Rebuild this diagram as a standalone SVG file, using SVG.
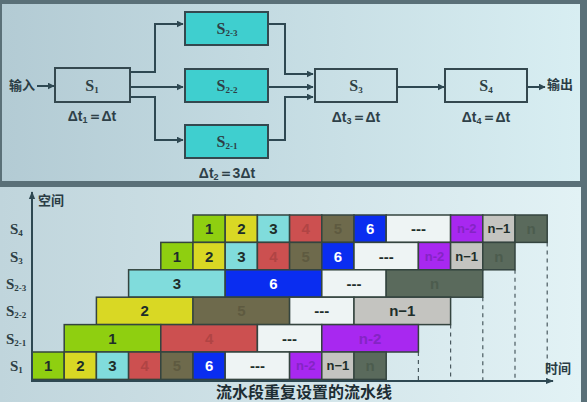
<svg xmlns="http://www.w3.org/2000/svg" width="587" height="402" viewBox="0 0 587 402">
<defs>
<linearGradient id="bgTop" x1="0" y1="0" x2="1" y2="0">
<stop offset="0" stop-color="#b3cbd4"/><stop offset="1" stop-color="#d8eef2"/>
</linearGradient>
<linearGradient id="bgBot" x1="0" y1="0" x2="1" y2="0">
<stop offset="0" stop-color="#c0d5dc"/><stop offset="1" stop-color="#e2f2f5"/>
</linearGradient>
<marker id="arr" viewBox="0 0 10 10" refX="9" refY="5" markerWidth="7" markerHeight="7" markerUnits="userSpaceOnUse" orient="auto">
<path d="M0,0 L10,5 L0,10 z" fill="#2e4852"/>
</marker>
<marker id="arr2" viewBox="0 0 10 10" refX="9" refY="5" markerWidth="8" markerHeight="8" markerUnits="userSpaceOnUse" orient="auto">
<path d="M0,1 L10,5 L0,9 z" fill="#2e4852"/>
</marker>
</defs>
<style>
.box{stroke:#34484f;stroke-width:2}
.plain{fill:none}
.cyan{fill:#3fcfcf}
.lbl{font-family:"Liberation Serif",serif;font-weight:bold;font-size:16px;fill:#2e3e44;text-anchor:middle}
.sub{font-size:9px}
.dt{font-family:"Liberation Sans",sans-serif;font-weight:bold;font-size:14px;fill:#2e4048;text-anchor:middle}
.cn{font-family:"Liberation Sans","Noto Sans CJK SC",sans-serif;font-weight:bold;font-size:13px;fill:#2a3c44}
.conn{fill:none;stroke:#2e4852;stroke-width:2}
.cell{stroke:#34443f;stroke-width:1.5}
.ct{font-family:"Liberation Sans",sans-serif;font-weight:bold;font-size:15px;text-anchor:middle;dominant-baseline:central}
.sm{font-size:13px}
.c1{fill:#8fcf10}.c2{fill:#d9d824}.c3{fill:#80dcdc}.c4{fill:#cc5050}.c5{fill:#6e6a4c}.c6{fill:#0a2df0}.cd{fill:#eef4f4}.cn2{fill:#a828f0}.cn1{fill:#c4c4c0}.cnn{fill:#5a6a5c}
.t1{fill:#1e2e2a}.t4{fill:#b04444}.t5{fill:#5e5a40}.t6{fill:#ffffff}.tn2{fill:#8424c4}.tn{fill:#4c5c4e}
.dash{stroke:#4a5a60;stroke-width:1.2;stroke-dasharray:4 4}
.axis{stroke:#2e4852;stroke-width:2;fill:none}
.rl{font-family:"Liberation Serif",serif;font-weight:bold;font-size:15px;fill:#2e3e44}
</style>
<rect x="0" y="0" width="587" height="402" fill="#5a7078"/>
<rect x="2" y="4" width="578" height="177" fill="url(#bgTop)"/>
<rect x="0" y="187" width="581" height="215" fill="url(#bgBot)"/>

<g id="connectors">
<line class="conn" x1="37" y1="86" x2="54" y2="86" marker-end="url(#arr)"/>
<polyline class="conn" points="131,72 155,72 155,24 183,24" marker-end="url(#arr)"/>
<line class="conn" x1="131" y1="87" x2="183" y2="87" marker-end="url(#arr)"/>
<polyline class="conn" points="131,97 155,97 155,140 183,140" marker-end="url(#arr)"/>
<polyline class="conn" points="262,24 285,24 285,74 313,74" marker-end="url(#arr)"/>
<line class="conn" x1="262" y1="87" x2="313" y2="87" marker-end="url(#arr)"/>
<polyline class="conn" points="262,140 285,140 285,97 313,97" marker-end="url(#arr)"/>
<line class="conn" x1="397" y1="87" x2="444" y2="87" marker-end="url(#arr)"/>
<line class="conn" x1="527" y1="87" x2="545" y2="87" marker-end="url(#arr)"/>
</g>

<text class="cn" x="9" y="90">输入</text>
<text class="cn" x="547" y="89">输出</text>

<g id="S1">
<rect class="box plain" x="55" y="68" width="75" height="34"/>
<text class="lbl" x="92" y="91">S<tspan class="sub" dy="2">1</tspan></text>
<text class="dt" x="92" y="121">Δt<tspan font-size="9" dy="2">1</tspan><tspan dy="-2">＝Δt</tspan></text>
</g>
<g id="S2-3">
<rect class="box cyan" x="185" y="12" width="83" height="33"/>
<text class="lbl" x="227" y="34">S<tspan class="sub" dy="2">2-3</tspan></text>
</g>
<g id="S2-2">
<rect class="box cyan" x="185" y="69" width="83" height="33"/>
<text class="lbl" x="227" y="91">S<tspan class="sub" dy="2">2-2</tspan></text>
</g>
<g id="S2-1">
<rect class="box cyan" x="185" y="125" width="83" height="33"/>
<text class="lbl" x="227" y="147">S<tspan class="sub" dy="2">2-1</tspan></text>
<text class="dt" x="227" y="178">Δt<tspan font-size="9" dy="2">2</tspan><tspan dy="-2">＝3Δt</tspan></text>
</g>
<g id="S3">
<rect class="box plain" x="315" y="69" width="82" height="33"/>
<text class="lbl" x="356" y="91">S<tspan class="sub" dy="2">3</tspan></text>
<text class="dt" x="356" y="122">Δt<tspan font-size="9" dy="2">3</tspan><tspan dy="-2">＝Δt</tspan></text>
</g>
<g id="S4">
<rect class="box plain" x="445" y="69" width="82" height="33"/>
<text class="lbl" x="486" y="91">S<tspan class="sub" dy="2">4</tspan></text>
<text class="dt" x="486" y="122">Δt<tspan font-size="9" dy="2">4</tspan><tspan dy="-2">＝Δt</tspan></text>
</g>

<g id="chart">
<g id="dashes">
<line class="dash" x1="418.4" y1="352" x2="418.4" y2="380"/>
<line class="dash" x1="450.6" y1="324.6" x2="450.6" y2="380"/>
<line class="dash" x1="482.8" y1="297.2" x2="482.8" y2="380"/>
<line class="dash" x1="515" y1="269.8" x2="515" y2="380"/>
<line class="dash" x1="547.2" y1="242.4" x2="547.2" y2="380"/>
</g>

<g id="row-S4">
<rect class="cell c1" x="193" y="215" width="32.2" height="27.4"/><text class="ct t1" x="209.1" y="228.7">1</text>
<rect class="cell c2" x="225.2" y="215" width="32.2" height="27.4"/><text class="ct t1" x="241.3" y="228.7">2</text>
<rect class="cell c3" x="257.4" y="215" width="32.2" height="27.4"/><text class="ct t1" x="273.5" y="228.7">3</text>
<rect class="cell c4" x="289.6" y="215" width="32.2" height="27.4"/><text class="ct t4" x="305.7" y="228.7">4</text>
<rect class="cell c5" x="321.8" y="215" width="32.2" height="27.4"/><text class="ct t5" x="337.9" y="228.7">5</text>
<rect class="cell c6" x="354" y="215" width="32.2" height="27.4"/><text class="ct t6" x="370.1" y="228.7">6</text>
<rect class="cell cd" x="386.2" y="215" width="64.4" height="27.4"/><text class="ct t1" x="418.4" y="228.7">---</text>
<rect class="cell cn2" x="450.6" y="215" width="32.2" height="27.4"/><text class="ct tn2 sm" x="466.7" y="228.7">n-2</text>
<rect class="cell cn1" x="482.8" y="215" width="32.2" height="27.4"/><text class="ct t1 sm" x="498.9" y="228.7">n−1</text>
<rect class="cell cnn" x="515" y="215" width="32.2" height="27.4"/><text class="ct tn" x="531.1" y="228.7">n</text>
</g>
<g id="row-S3">
<rect class="cell c1" x="160.8" y="242.4" width="32.2" height="27.4"/><text class="ct t1" x="176.9" y="256.1">1</text>
<rect class="cell c2" x="193" y="242.4" width="32.2" height="27.4"/><text class="ct t1" x="209.1" y="256.1">2</text>
<rect class="cell c3" x="225.2" y="242.4" width="32.2" height="27.4"/><text class="ct t1" x="241.3" y="256.1">3</text>
<rect class="cell c4" x="257.4" y="242.4" width="32.2" height="27.4"/><text class="ct t4" x="273.5" y="256.1">4</text>
<rect class="cell c5" x="289.6" y="242.4" width="32.2" height="27.4"/><text class="ct t5" x="305.7" y="256.1">5</text>
<rect class="cell c6" x="321.8" y="242.4" width="32.2" height="27.4"/><text class="ct t6" x="337.9" y="256.1">6</text>
<rect class="cell cd" x="354" y="242.4" width="64.4" height="27.4"/><text class="ct t1" x="386.2" y="256.1">---</text>
<rect class="cell cn2" x="418.4" y="242.4" width="32.2" height="27.4"/><text class="ct tn2 sm" x="434.5" y="256.1">n-2</text>
<rect class="cell cn1" x="450.6" y="242.4" width="32.2" height="27.4"/><text class="ct t1 sm" x="466.7" y="256.1">n−1</text>
<rect class="cell cnn" x="482.8" y="242.4" width="32.2" height="27.4"/><text class="ct tn" x="498.9" y="256.1">n</text>
</g>
<g id="row-S2-3">
<rect class="cell c3" x="128.6" y="269.8" width="96.6" height="27.4"/><text class="ct t1" x="176.9" y="283.5">3</text>
<rect class="cell c6" x="225.2" y="269.8" width="96.6" height="27.4"/><text class="ct t6" x="273.5" y="283.5">6</text>
<rect class="cell cd" x="321.8" y="269.8" width="64.4" height="27.4"/><text class="ct t1" x="354" y="283.5">---</text>
<rect class="cell cnn" x="386.2" y="269.8" width="96.6" height="27.4"/><text class="ct tn" x="434.5" y="283.5">n</text>
</g>
<g id="row-S2-2">
<rect class="cell c2" x="96.4" y="297.2" width="96.6" height="27.4"/><text class="ct t1" x="144.7" y="310.9">2</text>
<rect class="cell c5" x="193" y="297.2" width="96.6" height="27.4"/><text class="ct t5" x="241.3" y="310.9">5</text>
<rect class="cell cd" x="289.6" y="297.2" width="64.4" height="27.4"/><text class="ct t1" x="321.8" y="310.9">---</text>
<rect class="cell cn1" x="354" y="297.2" width="96.6" height="27.4"/><text class="ct t1" x="402.3" y="310.9">n−1</text>
</g>
<g id="row-S2-1">
<rect class="cell c1" x="64.2" y="324.6" width="96.6" height="27.4"/><text class="ct t1" x="112.5" y="338.3">1</text>
<rect class="cell c4" x="160.8" y="324.6" width="96.6" height="27.4"/><text class="ct t4" x="209.1" y="338.3">4</text>
<rect class="cell cd" x="257.4" y="324.6" width="64.4" height="27.4"/><text class="ct t1" x="289.6" y="338.3">---</text>
<rect class="cell cn2" x="321.8" y="324.6" width="96.6" height="27.4"/><text class="ct tn2" x="370.1" y="338.3">n-2</text>
</g>
<g id="row-S1">
<rect class="cell c1" x="32" y="352" width="32.2" height="27.4"/><text class="ct t1" x="48.1" y="365.7">1</text>
<rect class="cell c2" x="64.2" y="352" width="32.2" height="27.4"/><text class="ct t1" x="80.3" y="365.7">2</text>
<rect class="cell c3" x="96.4" y="352" width="32.2" height="27.4"/><text class="ct t1" x="112.5" y="365.7">3</text>
<rect class="cell c4" x="128.6" y="352" width="32.2" height="27.4"/><text class="ct t4" x="144.7" y="365.7">4</text>
<rect class="cell c5" x="160.8" y="352" width="32.2" height="27.4"/><text class="ct t5" x="176.9" y="365.7">5</text>
<rect class="cell c6" x="193" y="352" width="32.2" height="27.4"/><text class="ct t6" x="209.1" y="365.7">6</text>
<rect class="cell cd" x="225.2" y="352" width="64.4" height="27.4"/><text class="ct t1" x="257.4" y="365.7">---</text>
<rect class="cell cn2" x="289.6" y="352" width="32.2" height="27.4"/><text class="ct tn2 sm" x="305.7" y="365.7">n-2</text>
<rect class="cell cn1" x="321.8" y="352" width="32.2" height="27.4"/><text class="ct t1 sm" x="337.9" y="365.7">n−1</text>
<rect class="cell cnn" x="354" y="352" width="32.2" height="27.4"/><text class="ct tn" x="370.1" y="365.7">n</text>
</g>

<line class="axis" x1="32" y1="381" x2="32" y2="192" marker-end="url(#arr2)"/>
<line class="axis" x1="31" y1="381" x2="553" y2="381" marker-end="url(#arr2)"/>
<text class="cn" x="38" y="205">空间</text>
<text class="cn" x="545" y="373">时间</text>

<text class="rl" x="10" y="234">S<tspan class="sub" dy="2">4</tspan></text>
<text class="rl" x="10" y="262">S<tspan class="sub" dy="2">3</tspan></text>
<text class="rl" x="6" y="289">S<tspan class="sub" dy="2">2-3</tspan></text>
<text class="rl" x="6" y="316">S<tspan class="sub" dy="2">2-2</tspan></text>
<text class="rl" x="6" y="344">S<tspan class="sub" dy="2">2-1</tspan></text>
<text class="rl" x="10" y="371">S<tspan class="sub" dy="2">1</tspan></text>

<text x="304" y="398" text-anchor="middle" font-family="'Noto Sans CJK SC',sans-serif" font-weight="bold" font-size="16" fill="#1e2e34">流水段重复设置的流水线</text>
</g>
</svg>
